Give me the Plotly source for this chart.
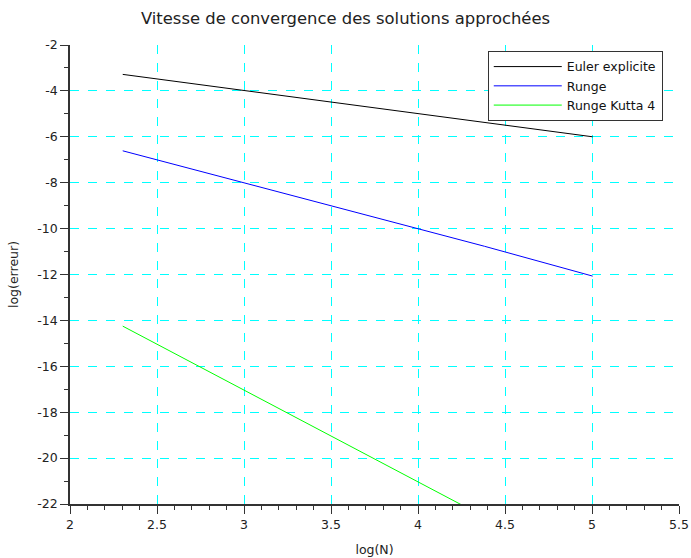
import plotly.graph_objects as go

# log(N) values
log_n = [2.303, 2.996, 3.689, 4.382, 5.004]
# log(erreur) for each method
euler = [-3.28, -3.97, -4.66, -5.35, -6.00]
runge = [-6.61, -8.00, -9.38, -10.77, -12.07]
rk4 = [-14.25, -17.02, -19.80, -22.57, -25.05]

series_names = ["Euler explicite", "Runge", "Runge Kutta 4"]
series_colors = ["#000000", "#0000ff", "#00ff00"]

x_ticks = [2, 2.5, 3, 3.5, 4, 4.5, 5, 5.5]
y_ticks = [-2, -4, -6, -8, -10, -12, -14, -16, -18, -20, -22]
x_minor = [round(2 + 0.1 * i, 1) for i in range(36) if i % 5 != 0]
y_minor = [-3, -5, -7, -9, -11, -13, -15, -17, -19, -21]

fig = go.Figure()
for name, vals, col in zip(series_names, [euler, runge, rk4], series_colors):
    fig.add_trace(go.Scatter(x=log_n, y=vals, mode="lines", name=name,
                             line=dict(color=col, width=1)))

font = "DejaVu Sans, sans-serif"
fig.update_layout(
    width=691, height=558,
    margin=dict(l=70, r=12, t=45, b=54),
    paper_bgcolor="white", plot_bgcolor="white",
    font=dict(family=font, size=12.5, color="#222222"),
    title=dict(text="Vitesse de convergence des solutions approchées",
               x=0.5, xanchor="center", y=0.968, yanchor="middle",
               font=dict(family=font, size=16.4, color="#222222")),
    legend=dict(x=0.686, y=0.987, xanchor="left", yanchor="top",
                bgcolor="white", bordercolor="#333333", borderwidth=1,
                font=dict(family=font, size=12.5, color="#111111"),
                itemwidth=68, tracegroupgap=0),
    showlegend=True,
)
fig.update_xaxes(
    range=[2, 5.5], tickmode="array", tickvals=x_ticks, ticktext=[str(v) for v in x_ticks],
    tickfont=dict(size=12.5),
    showline=True, linecolor="#333333", linewidth=1.5, mirror=False,
    ticks="outside", ticklen=8, tickcolor="#333333",
    showgrid=True, gridcolor="#00ffff", griddash="dash", gridwidth=1,
    zeroline=False, automargin=False,
    minor=dict(tickmode="array", tickvals=x_minor, ticks="outside", ticklen=4,
               tickcolor="#333333", showgrid=False),
    title=dict(text="log(N)", font=dict(family=font, size=12.5), standoff=14),
)
fig.update_yaxes(
    range=[-22, -2], tickmode="array", tickvals=y_ticks, ticktext=[str(v) for v in y_ticks],
    tickfont=dict(size=12.5),
    showline=True, linecolor="#333333", linewidth=1.5, mirror=False,
    ticks="outside", ticklen=8, tickcolor="#333333",
    showgrid=True, gridcolor="#00ffff", griddash="dash", gridwidth=1,
    zeroline=False, automargin=False,
    minor=dict(tickmode="array", tickvals=y_minor, ticks="outside", ticklen=4,
               tickcolor="#333333", showgrid=False),
    title=dict(text="log(erreur)", font=dict(family=font, size=12.5), standoff=16),
)

fig.write_html("out.html", config={"displayModeBar": False},
               post_script="document.body.style.margin='0';document.body.style.overflow='hidden';")
